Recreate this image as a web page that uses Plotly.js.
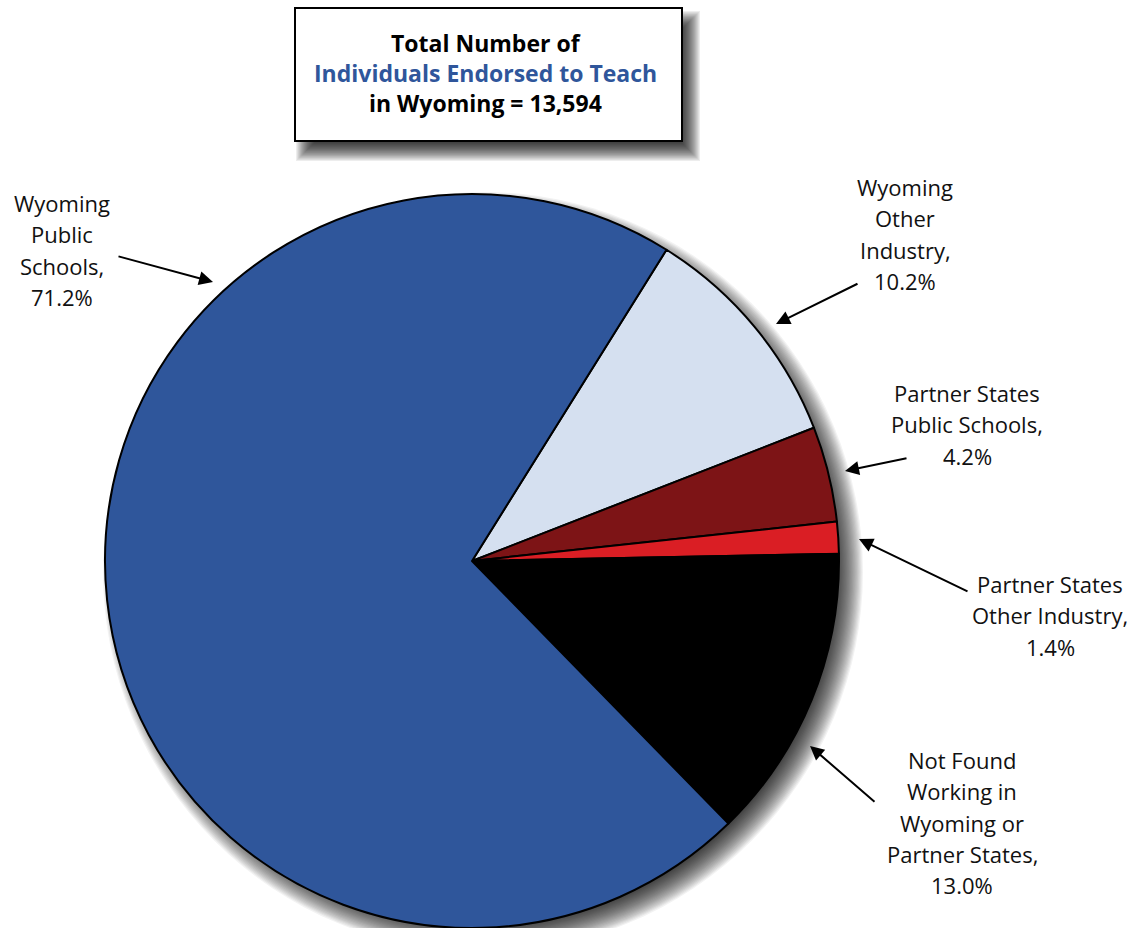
<!DOCTYPE html>
<html>
<head>
<meta charset="utf-8">
<script src="https://cdn.plot.ly/plotly-3.0.1.min.js"></script>
<style>
html,body{margin:0;padding:0;background:#fff;overflow:hidden;}
#chart{width:1135px;height:928px;}
</style>
</head>
<body>
<div id="chart"></div>
<script>
// ---- data ----
var categories = ['Wyoming Other Industry', 'Partner States Public Schools', 'Partner States Other Industry', 'Not Found Working in Wyoming or Partner States', 'Wyoming Public Schools'];
var shares = [10.2, 4.2, 1.4, 13.0, 71.2];
var sliceColors = ['#D5E0F0', '#7D1416', '#DA1E24', '#000000', '#2F569B'];
var labelLines = [
  ['Wyoming', 'Other', 'Industry,'],
  ['Partner States', 'Public Schools,'],
  ['Partner States', 'Other Industry,'],
  ['Not Found', 'Working in', 'Wyoming or', 'Partner States,'],
  ['Wyoming', 'Public', 'Schools,']
];
var titleLines = ['Total Number of', 'Individuals Endorsed to Teach', 'in Wyoming = 13,594'];

// ---- layout helpers (pixels -> paper) ----
var W = 1135, H = 928;
function px(x) { return x / W; }
function py(y) { return 1 - y / H; }

// label placement (pixel centre x, first-line y) and arrow tip / tail
var labelPos = [
  {x: 905, y: 187, tip: [776, 324], tail: [859, 283]},
  {x: 967, y: 393, tip: [845, 471], tail: [908, 458]},
  {x: 1050, y: 584, tip: [859, 539], tail: [969, 592]},
  {x: 962, y: 760, tip: [810, 746], tail: [876, 803]},
  {x: 62, y: 203, tip: [213, 282], tail: [117, 256]}
];
var lineGap = 31.3;

var annotations = [];
var labelFont = {family: 'Open Sans, sans-serif', size: 22, color: '#111111'};
for (var i = 0; i < categories.length; i++) {
  var lines = labelLines[i].concat([shares[i].toFixed(1) + '%']);
  var p = labelPos[i];
  for (var j = 0; j < lines.length; j++) {
    annotations.push({
      xref: 'paper', yref: 'paper', x: px(p.x), y: py(p.y + j * lineGap),
      xanchor: 'center', yanchor: 'middle', showarrow: false,
      text: lines[j], font: labelFont
    });
  }
  annotations.push({
    xref: 'paper', yref: 'paper', x: px(p.tip[0]), y: py(p.tip[1]),
    ax: p.tail[0] - p.tip[0], ay: p.tail[1] - p.tip[1],
    text: '', showarrow: true, arrowhead: 2, arrowsize: 1.4, arrowwidth: 2,
    arrowcolor: '#000000'
  });
}
var titleColors = ['#000000', '#2F569B', '#000000'];
for (var k = 0; k < titleLines.length; k++) {
  annotations.push({
    xref: 'paper', yref: 'paper', x: px(486), y: py(43 + k * 30),
    xanchor: 'center', yanchor: 'middle', showarrow: false,
    text: '<b>' + titleLines[k] + '</b>',
    font: {family: 'Open Sans, sans-serif', size: 23, color: titleColors[k]}
  });
}

// ---- shadows (drawn as stacked translucent shapes) ----
var shapes = [];
var cx = 472, cy = 561, R = 367;
var sdx = 11, sdy = 11;
for (var s = 0; s < 24; s++) {
  var r = R + 13 - s * 1.2;
  shapes.push({
    type: 'circle', xref: 'paper', yref: 'paper', layer: 'below',
    x0: px(cx + sdx - r), x1: px(cx + sdx + r), y0: py(cy + sdy + r), y1: py(cy + sdy - r),
    fillcolor: 'rgba(0,0,0,0.05)', line: {width: 0}
  });
}
var bx0 = 295, by0 = 8, bx1 = 682, by1 = 141;
for (var t = 0; t < 18; t++) {
  var e = 9 - t * 1.1;
  shapes.push({
    type: 'rect', xref: 'paper', yref: 'paper', layer: 'below',
    x0: px(bx0 + 10 - e), x1: px(bx1 + 9 + e), y0: py(by1 + 11 + e), y1: py(by0 + 12 - e),
    fillcolor: 'rgba(0,0,0,0.07)', line: {width: 0}
  });
}
shapes.push({
  type: 'rect', xref: 'paper', yref: 'paper', layer: 'below',
  x0: px(bx0), x1: px(bx1), y0: py(by1), y1: py(by0),
  fillcolor: '#ffffff', line: {color: '#000000', width: 2}
});

var trace = {
  type: 'pie',
  labels: categories,
  values: shares,
  sort: false,
  direction: 'clockwise',
  rotation: 32,
  marker: {colors: sliceColors, line: {color: '#000000', width: 2}},
  textinfo: 'none',
  hoverinfo: 'label+percent',
  showlegend: false,
  domain: {x: [px(cx - R), px(cx + R)], y: [0, py(cy - R)]}
};

var layout = {
  width: W, height: H,
  margin: {l: 0, r: 0, t: 0, b: 0},
  paper_bgcolor: '#ffffff',
  showlegend: false,
  annotations: annotations,
  shapes: shapes
};

Plotly.newPlot('chart', [trace], layout, {displayModeBar: false, staticPlot: true});
</script>
</body>
</html>
